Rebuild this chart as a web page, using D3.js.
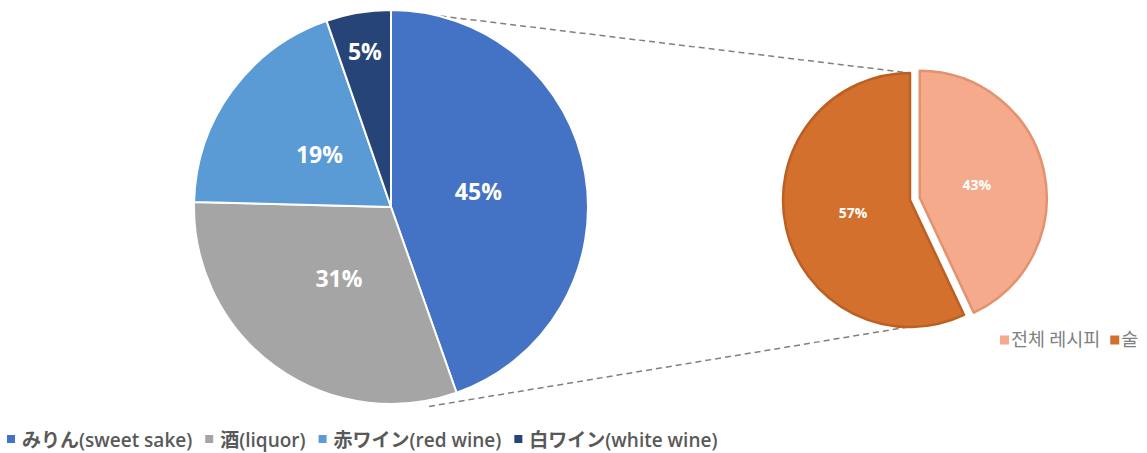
<!DOCTYPE html>
<html><head><meta charset="utf-8">
<script src="https://cdn.jsdelivr.net/npm/d3@7"></script>
<style>
html,body{margin:0;padding:0;background:#fff;}
svg{display:block;}
</style></head>
<body>
<svg id="chart" width="1147" height="453"></svg>
<script>
// ---- data ----
const mainCategories = ["みりん(sweet sake)", "酒(liquor)", "赤ワイン(red wine)", "白ワイン(white wine)"];
const mainValues = [44.6, 30.8, 19.3, 5.3];
const mainColors = ["#4472C4", "#A5A5A5", "#5B9BD5", "#264478"];

const subCategories = ["전체 레시피", "술"];
const subValues = [43, 57];
const subColors = ["#F4AA8B", "#D4702D"];
const subStroke = ["#E3926F", "#BC5F22"];

// ---- layout ----
const svg = d3.select("#chart");
const mainC = {x: 391, y: 207}, mainR = 197;
const subC = {x: 910, y: 200}, subR = 127;
const explode = 10;

const toXY = (c, r, a) => [c.x + r * Math.sin(a), c.y - r * Math.cos(a)];

// connector lines (behind pies)
const conn = svg.append("g").attr("stroke", "#808080").attr("stroke-width", 1.5)
  .attr("stroke-dasharray", "6,4").attr("fill", "none");
const tA = toXY(mainC, mainR, 0.0), tB = toXY(subC, subR, 0);
const bA = toXY(mainC, mainR + 6, Math.PI * 0.94), bB = toXY(subC, subR, Math.PI);
conn.append("line").attr("x1", tA[0]).attr("y1", tA[1]).attr("x2", tB[0]).attr("y2", tB[1]);
conn.append("line").attr("x1", bA[0]).attr("y1", bA[1]).attr("x2", bB[0] + 4).attr("y2", bB[1] - 1);

// main pie
const pie = d3.pie().sort(null).value(d => d);
const mainArcs = pie(mainValues);
const arc = d3.arc().innerRadius(0).outerRadius(mainR);
const gMain = svg.append("g").attr("transform", `translate(${mainC.x},${mainC.y})`);
gMain.selectAll("path").data(mainArcs).join("path")
  .attr("d", arc).attr("fill", (d, i) => mainColors[i])
  .attr("stroke", "#fff").attr("stroke-width", 2).attr("stroke-linejoin", "round");
gMain.selectAll("text").data(mainArcs).join("text")
  .attr("transform", d => {
    const frac = (d.endAngle - d.startAngle) / (2 * Math.PI);
    const r = frac < 0.1 ? mainR * 0.8 : mainR * 0.45;
    const a = (d.startAngle + d.endAngle) / 2;
    return `translate(${r * Math.sin(a)},${-r * Math.cos(a)})`;
  })
  .attr("text-anchor", "middle").attr("dy", "0.36em")
  .attr("fill", "#fff").attr("font-family", "'Open Sans', 'Noto Sans', sans-serif")
  .attr("font-weight", 700).attr("font-size", 23)
  .text(d => Math.round(d.value) + "%");

// sub pie (exploded first slice)
const subArcs = pie(subValues);
const subArc = d3.arc().innerRadius(0).outerRadius(subR);
const gSub = svg.append("g").attr("transform", `translate(${subC.x},${subC.y})`);
const subOff = (d, i) => {
  if (i !== 0) return [0, 0];
  const a = (d.startAngle + d.endAngle) / 2;
  return [explode * Math.sin(a), -explode * Math.cos(a)];
};
gSub.selectAll("path").data(subArcs).join("path")
  .attr("transform", (d, i) => { const o = subOff(d, i); return `translate(${o[0]},${o[1]})`; })
  .attr("d", subArc).attr("fill", (d, i) => subColors[i])
  .attr("stroke", (d, i) => subStroke[i]).attr("stroke-width", 2.5).attr("stroke-linejoin", "round");
gSub.selectAll("text").data(subArcs).join("text")
  .attr("transform", (d, i) => {
    const o = subOff(d, i);
    const a = (d.startAngle + d.endAngle) / 2;
    const r = subR * 0.46;
    return `translate(${o[0] + r * Math.sin(a)},${o[1] - r * Math.cos(a)})`;
  })
  .attr("text-anchor", "middle").attr("dy", "0.36em")
  .attr("fill", "#fff").attr("font-family", "'Open Sans', 'Noto Sans', sans-serif")
  .attr("font-weight", 700).attr("font-size", 14)
  .text(d => d.value + "%");

// bottom legend
const leg = svg.append("g").attr("transform", "translate(7,440)");
let lx = 0;
mainCategories.forEach((c, i) => {
  leg.append("rect").attr("x", lx).attr("y", -5).attr("width", 8).attr("height", 8).attr("fill", mainColors[i]);
  const t = leg.append("text").attr("x", lx + 15).attr("y", 0).attr("dy", "0.35em")
    .attr("fill", "#595959").attr("font-family", "'Open Sans', 'Noto Sans CJK JP', sans-serif")
    .attr("font-weight", 600).attr("font-size", 19).text(c);
  lx += 15 + t.node().getComputedTextLength() + 13;
});

// right legend
const leg2 = svg.append("g").attr("transform", "translate(1000,340)");
let lx2 = 0;
subCategories.forEach((c, i) => {
  leg2.append("rect").attr("x", lx2).attr("y", -4.5).attr("width", 9).attr("height", 9).attr("fill", subColors[i]);
  const t = leg2.append("text").attr("x", lx2 + 11).attr("y", 0).attr("dy", "0.35em")
    .attr("fill", "#7F7F7F").attr("font-family", "'Noto Sans CJK KR', sans-serif")
    .attr("font-size", 18.5).text(c);
  lx2 += 11 + t.node().getComputedTextLength() + 10;
});
</script>
</body></html>
